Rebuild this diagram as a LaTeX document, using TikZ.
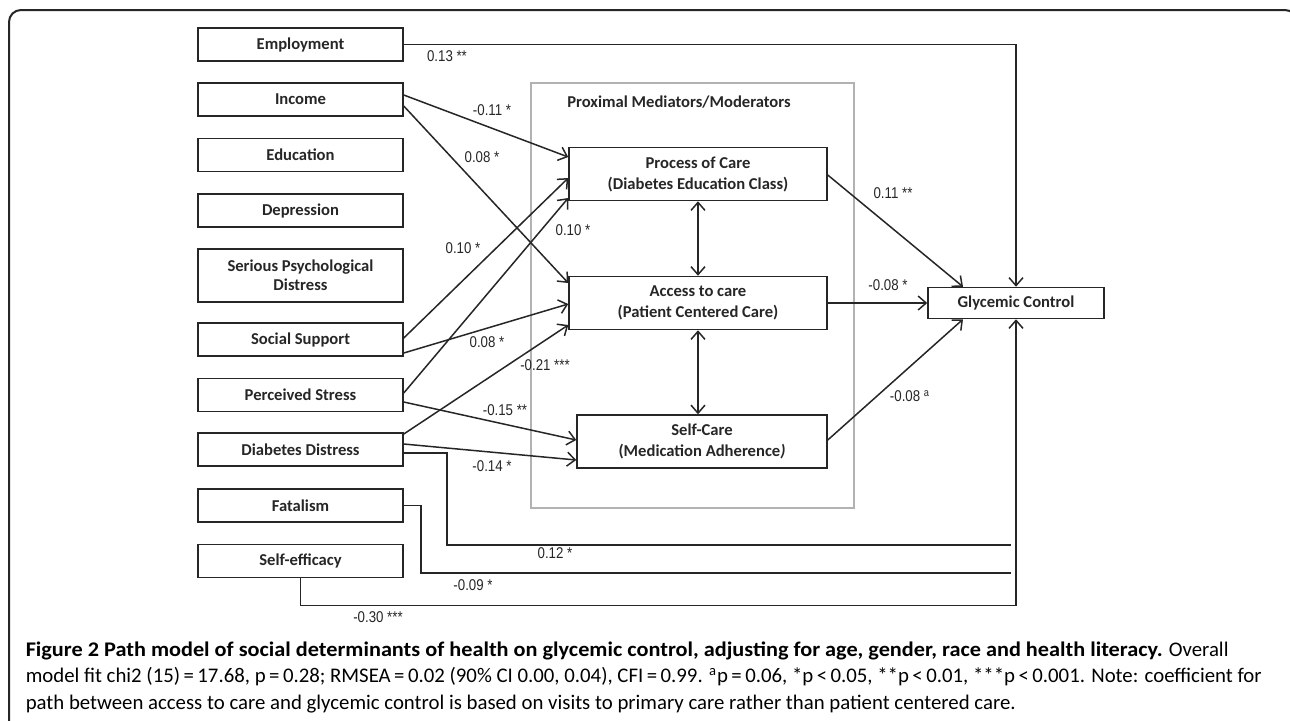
\documentclass[tikz,border=0pt]{standalone}
\usepackage{fontspec}
\setmainfont{Carlito}
\newfontfamily\numfont[FakeStretch=0.85]{Liberation Sans}
\newfontfamily\capfont[BoldFeatures={FakeStretch=1.07}]{Carlito}
\usetikzlibrary{arrows.meta,calc}

\begin{document}
\begin{tikzpicture}[x=0.5pt,y=-0.5pt,
	>={Straight Barb[length=4pt,width=7pt]},
	line width=0.75pt, color=black!85,
	factor/.style={draw,rectangle,minimum width=102.5pt,minimum height=16.5pt,inner sep=1pt,align=center,font=\bfseries\fontsize{8.3}{9.6}\selectfont},
	mediator/.style={draw,rectangle,minimum width=129pt,minimum height=26.5pt,inner sep=1pt,align=center,font=\bfseries\fontsize{8.3}{10.5}\selectfont},
	outcome/.style={draw,rectangle,minimum width=88pt,minimum height=15.5pt,inner sep=1pt,font=\bfseries\fontsize{8.3}{10}\selectfont},
	coef/.style={inner sep=0pt,font=\numfont\fontsize{7.8}{9}\selectfont}]

	\useasboundingbox (0,0) rectangle (1290,720);
	\draw[line width=1pt,rounded corners=6pt] (9,730) -- (9,10) -- (1297,10) -- (1297,730);

	\draw[line width=1pt,color=black!30] (531,83) rectangle (854,508);
	\node[font=\bfseries\fontsize{8.3}{10}\selectfont] (title) at (679,102) {Proximal Mediators/Moderators};

	\node[factor] (emp) at (300.5,44.5) {Employment};
	\node[factor] (inc) at (300.5,99.5) {Income};
	\node[factor] (edu) at (300.5,155) {Education};
	\node[factor] (dep) at (300.5,210.5) {Depression};
	\node[factor,minimum height=26.5pt] (spd) at (300.5,275.5) {Serious Psychological\\Distress};
	\node[factor] (soc) at (300.5,339.5) {Social Support};
	\node[factor] (pst) at (300.5,395) {Perceived Stress};
	\node[factor] (dds) at (300.5,449.5) {Diabetes Distress};
	\node[factor] (fat) at (300.5,505.5) {Fatalism};
	\node[factor] (sef) at (300.5,561) {Self-efficacy};

	\node[mediator] (proc) at (698,174) {Process of Care\\(Diabetes Education Class)};
	\node[mediator] (acc) at (698,303) {Access to care\\(Patient Centered Care)};
	\node[mediator,minimum width=125pt] (self) at (702,441.5) {Self-Care\\(Medication Adherence\textit{)}};

	\node[outcome] (glyc) at (1016,303) {Glycemic Control};

	\coordinate (ddsend) at (1011,545);
	\coordinate (fatend) at (1011,573);

	\draw[->] (emp.east) -| (glyc.north);
	\draw[->] ($(inc.east)+(0,-4.5)$) -- ($(proc.west)+(0,-17)$);
	\draw[->] ($(inc.east)+(0,6.5)$) -- ($(acc.west)+(0,-20)$);
	\draw[->] ($(soc.east)+(0,-1.5)$) -- ($(proc.west)+(0,4)$);
	\draw[->] ($(soc.east)+(0,13.5)$) -- ($(acc.west)+(0,1)$);
	\draw[->] ($(pst.east)+(0,-2)$) -- ($(proc.west)+(0,24)$);
	\draw[->] ($(pst.east)+(0,7)$) -- ($(self.west)+(0,-1.5)$);
	\draw[->] ($(dds.east)+(0,-15.5)$) -- ($(acc.west)+(0,22)$);
	\draw[->] ($(dds.east)+(0,-5.5)$) -- ($(self.west)+(0,18.5)$);
	\draw ($(dds.east)+(0,3.5)$) -- ++(43,0) |- (ddsend);
	\draw (fat.east) -- ++(17,0) |- (fatend);
	\draw[->] (sef.south) -- ++(0,27) -| (glyc.south);

	\draw[<->] (proc.south) -- (acc.north);
	\draw[<->] (acc.south) -- (acc.south |- self.north);

	\draw[->] ($(proc.east)+(0,1)$) -- ($(glyc.north)+(-53,0)$);
	\draw[->] (acc.east) -- (glyc.west);
	\draw[->] ($(self.east)+(0,-1.5)$) -- ($(glyc.south)+(-53,0)$);

	\node[coef] (c1) at (447,56) {0.13 **};
	\node[coef] (c2) at (492,110) {-0.11 *};
	\node[coef] (c3) at (482,157) {0.08 *};
	\node[coef] (c4) at (463,248) {0.10 *};
	\node[coef] (c5) at (573,230) {0.10 *};
	\node[coef] (c6) at (487,342) {0.08 *};
	\node[coef] (c7) at (545,365) {-0.21 ***};
	\node[coef] (c8) at (505,410) {-0.15 **};
	\node[coef] (c9) at (492,466) {-0.14 *};
	\node[coef] (c10) at (555,553) {0.12 *};
	\node[coef] (c11) at (473,585) {-0.09 *};
	\node[coef] (c12) at (378,617) {-0.30 ***};
	\node[coef] (c13) at (893,193) {0.11 **};
	\node[coef] (c14) at (888,285) {-0.08 *};
	\node[coef] (c15) at (910,396) {-0.08 \textsuperscript{a}};

	\node[anchor=north west,inner sep=0pt,align=left,color=black,font=\capfont\fontsize{10.4}{13.3}\selectfont] (caption) at (25,641) {{\bfseries Figure 2 Path model of social determinants of health on glycemic control, adjusting for age, gender, race and health literacy.} Overall\\
	model fit chi2 (15)\,=\,17.68, p\,=\,0.28; RMSEA\,=\,0.02 (90\% CI 0.00, 0.04), CFI\,=\,0.99. \textsuperscript{a}p\,=\,0.06, *p\,<\,0.05, **p\,<\,0.01, ***p\,<\,0.001. Note: coefficient for\\
	path between access to care and glycemic control is based on visits to primary care rather than patient centered care.};

\end{tikzpicture}
\end{document}
